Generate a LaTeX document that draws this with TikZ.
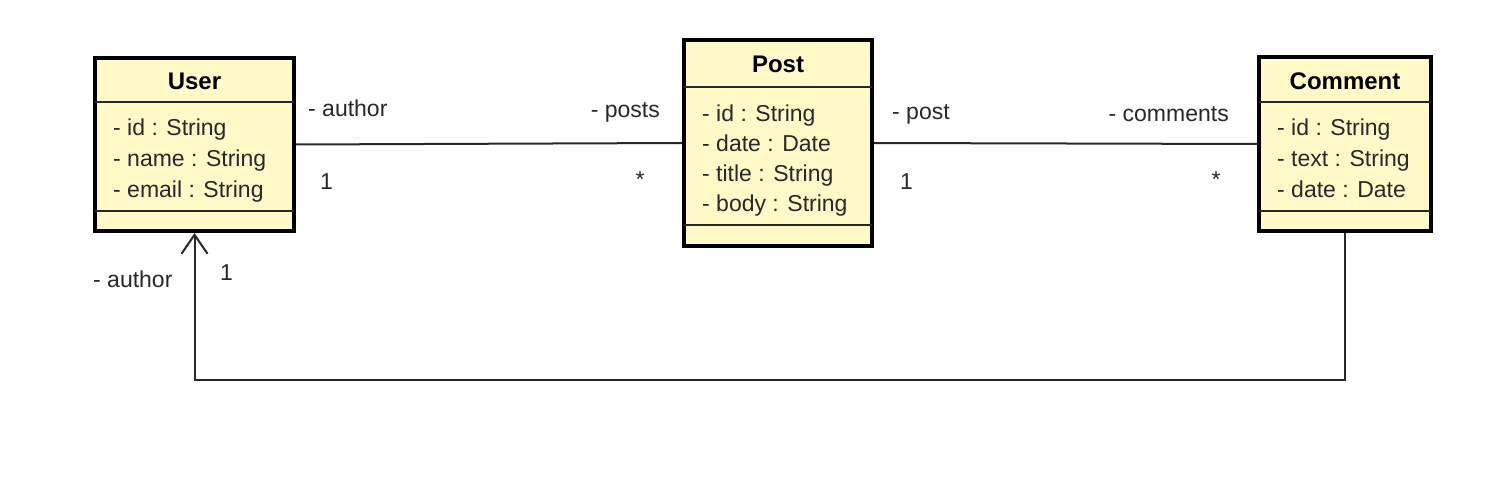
\documentclass[tikz,border=0pt]{standalone}
\usepackage{fontspec}
\setmainfont{Liberation Sans}
\usetikzlibrary{arrows.meta}
\definecolor{classfill}{RGB}{255,250,200}
\definecolor{inkc}{RGB}{40,40,40}
\begin{document}
\begin{tikzpicture}[x=1pt,y=-1pt,
  classbox/.style={draw=black,fill=classfill,line width=4pt,inner sep=0pt,rectangle},
  sepline/.style={draw=inkc,line width=1.8pt},
  assoc/.style={draw=inkc,line width=2pt},
  attr/.style={anchor=base west,inner sep=0pt,text=inkc,font=\fontsize{23}{28}\selectfont},
  ttl/.style={anchor=base,inner sep=0pt,text=black,font=\fontsize{24}{28}\selectfont\bfseries},
  lbl/.style={inner sep=0pt,text=inkc,font=\fontsize{23}{28}\selectfont}]
\useasboundingbox (0,0) rectangle (1502,478);
\fill[white] (0,0) rectangle (1502,478);
% boxes
\node[classbox,minimum width=199pt,minimum height=173pt] (user) at (194.5,144.5) {};
\node[classbox,minimum width=188pt,minimum height=206pt] (post) at (778,143) {};
\node[classbox,minimum width=172pt,minimum height=174pt] (comment) at (1345,144) {};
% separators
\draw[sepline] (95,102) -- (294,102);
\draw[sepline] (95,211) -- (294,211);
\draw[sepline] (684,87) -- (872,87);
\draw[sepline] (684,225) -- (872,225);
\draw[sepline] (1259,102) -- (1431,102);
\draw[sepline] (1259,211) -- (1431,211);
% titles
\node[ttl] (userT) at (194.5,90) {User};
\node[ttl] (postT) at (778,73) {Post};
\node[ttl] (commentT) at (1345,90) {Comment};
% attributes
\node[attr] (u1) at (113,136) {- id : String};
\node[attr] (u2) at (113,167) {- name : String};
\node[attr] (u3) at (113,198) {- email : String};
\node[attr] (p1) at (702,122) {- id : String};
\node[attr] (p2) at (702,152) {- date : Date};
\node[attr] (p3) at (702,182) {- title : String};
\node[attr] (p4) at (702,212) {- body : String};
\node[attr] (c1) at (1277,136) {- id : String};
\node[attr] (c2) at (1277,167) {- text : String};
\node[attr] (c3) at (1277,198) {- date : Date};
% associations
\draw[assoc] (user.east) -- (post.west);
\draw[assoc] (post.east) -- (comment.west);
\coordinate (bottomrow) at (700,380);
\draw[assoc,-{Straight Barb[length=19pt,width=26pt,line width=2pt]}] (comment.south) |- (bottomrow) -| (user.south);
% labels
\node[lbl,anchor=base west] (l1) at (308,117) {- author};
\node[lbl,anchor=base west] (l2) at (320,190) {1};
\node[lbl,anchor=base east] (l3) at (660,118) {- posts};
\node[lbl,anchor=center] (l4) at (640,180) {*};
\node[lbl,anchor=base west] (l5) at (892,120) {- post};
\node[lbl,anchor=base west] (l6) at (900,190) {1};
\node[lbl,anchor=base east] (l7) at (1229,122) {- comments};
\node[lbl,anchor=center] (l8) at (1216,180) {*};
\node[lbl,anchor=base west] (l9) at (93,288) {- author};
\node[lbl,anchor=base west] (l10) at (220,281) {1};
\end{tikzpicture}
\end{document}
